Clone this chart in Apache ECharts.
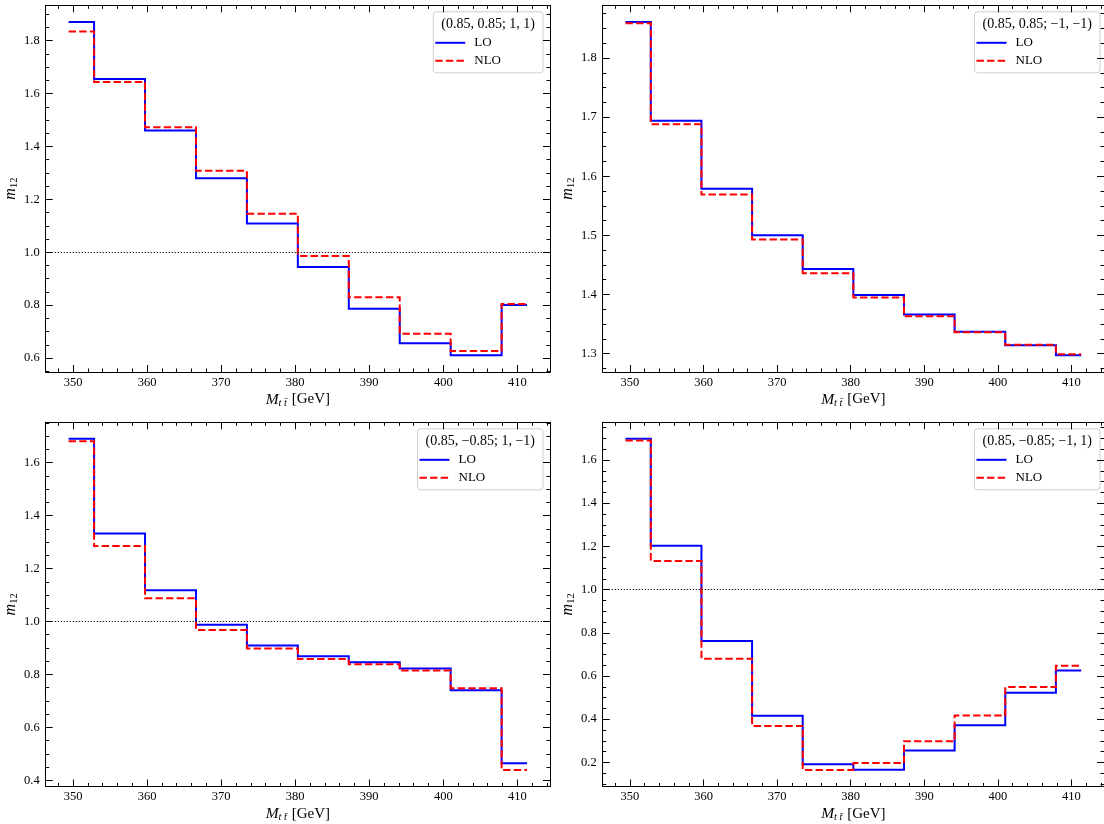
<!DOCTYPE html>
<html>
<head>
<meta charset="utf-8">
<script src="https://cdn.jsdelivr.net/npm/echarts@6/dist/echarts.min.js"></script>
<style>
  html, body { margin: 0; padding: 0; background: #fff; }
  #chart { width: 1104px; height: 824px; }
</style>
</head>
<body>
<div id="chart"></div>
<script>
// Bin centres of the M_tt̄ distribution (GeV)
const binCenters = [349.4, 356.28, 363.16, 370.04, 376.92, 383.8, 390.68, 397.56, 404.44, 411.32];

// m12 per bin, LO and NLO, for each spin/coupling configuration
const loA  = [1.871, 1.655, 1.460, 1.280, 1.109, 0.944, 0.786, 0.656, 0.610, 0.800];
const nloA = [1.835, 1.644, 1.473, 1.308, 1.146, 0.986, 0.830, 0.692, 0.626, 0.804];
const loB  = [1.861, 1.694, 1.579, 1.500, 1.443, 1.399, 1.366, 1.337, 1.314, 1.297];
const nloB = [1.859, 1.688, 1.569, 1.493, 1.436, 1.395, 1.363, 1.336, 1.315, 1.299];
const loC  = [1.690, 1.332, 1.118, 0.988, 0.909, 0.869, 0.846, 0.822, 0.740, 0.464];
const nloC = [1.681, 1.285, 1.088, 0.968, 0.898, 0.858, 0.838, 0.815, 0.748, 0.439];
const loD  = [1.698, 1.203, 0.762, 0.416, 0.191, 0.166, 0.255, 0.372, 0.523, 0.626];
const nloD = [1.690, 1.133, 0.680, 0.369, 0.165, 0.197, 0.298, 0.417, 0.549, 0.648];

const panelTitles = [
  '(0.85, 0.85; 1, 1)',
  '(0.85, 0.85; \u22121, \u22121)',
  '(0.85, \u22120.85; 1, \u22121)',
  '(0.85, \u22120.85; \u22121, 1)'
];

// Tick labels
const xTicks  = [350, 360, 370, 380, 390, 400, 410];
const yTicksA = [0.6, 0.8, 1.0, 1.2, 1.4, 1.6, 1.8];
const yTicksB = [1.3, 1.4, 1.5, 1.6, 1.7, 1.8];
const yTicksC = [0.4, 0.6, 0.8, 1.0, 1.2, 1.4, 1.6];
const yTicksD = [0.2, 0.4, 0.6, 0.8, 1.0, 1.2, 1.4, 1.6];

const panels = [
  { lo: loA, nlo: nloA, yTicks: yTicksA, minorDiv: 4, refLine: true },
  { lo: loB, nlo: nloB, yTicks: yTicksB, minorDiv: 4, refLine: false },
  { lo: loC, nlo: nloC, yTicks: yTicksC, minorDiv: 4, refLine: true },
  { lo: loD, nlo: nloD, yTicks: yTicksD, minorDiv: 4, refLine: true }
];

// Plot-area rectangles of the 2x2 layout
const gridRects = [
  { left: 45.7,  top: 5.3,   width: 504.3, height: 366.7 },
  { left: 602.7, top: 5.3,   width: 504.3, height: 366.7 },
  { left: 45.7,  top: 422.3, width: 504.3, height: 366.4 },
  { left: 602.7, top: 422.3, width: 504.3, height: 366.4 }
];

const FONT = '"Liberation Serif", "DejaVu Serif", serif';
const BLUE = '#0000ff';
const RED = '#ff0000';
const DASH = [7.4, 3.2];

// Axis limits padded by 5% of the data span on each side
function padded(values) {
  const lo = Math.min.apply(null, values), hi = Math.max.apply(null, values);
  const m = 0.05 * (hi - lo);
  return [lo - m, hi + m];
}

// Minor tick positions between (and around) the major ticks
function minorTicks(majors, div, lim) {
  const step = (majors[1] - majors[0]) / div;
  const out = [];
  const start = Math.ceil((lim[0] - majors[0]) / step - 1e-9);
  const end = Math.floor((lim[1] - majors[0]) / step + 1e-9);
  for (let k = start; k <= end; k++) {
    if (((k % div) + div) % div === 0) continue;
    out.push(+(majors[0] + k * step).toFixed(6));
  }
  return out;
}

const xLim = padded(binCenters);
const xMinor = minorTicks(xTicks, 5, xLim);

const tickLine = { color: '#000', width: 1 };
const labelStyle = { fontFamily: FONT, fontSize: 12.5, color: '#000' };

const xAxes = [], yAxes = [], series = [], grids = [], graphics = [];

const measureCtx = document.createElement('canvas').getContext('2d');

panels.forEach(function (p, i) {
  const g = gridRects[i];
  grids.push({ left: g.left, top: g.top, width: g.width, height: g.height, containLabel: false });

  const yLim = padded(p.lo.concat(p.nlo));
  const yMinor = minorTicks(p.yTicks, p.minorDiv, yLim);

  function axisBase(lim) {
    return {
      type: 'value', gridIndex: i, min: lim[0], max: lim[1],
      splitLine: { show: false }, silent: true,
      axisLine: { show: false, onZero: false, lineStyle: tickLine },
      axisLabel: { show: false }
    };
  }

  // x: bottom major (with labels + name), bottom minor, top major, top minor
  xAxes.push(Object.assign(axisBase(xLim), {
    position: 'bottom',
    axisLine: { show: true, onZero: false, lineStyle: tickLine },
    axisTick: { show: true, inside: true, length: 7, customValues: xTicks, lineStyle: tickLine },
    axisLabel: Object.assign({ show: true, customValues: xTicks, margin: 4,
      formatter: function (v) { return String(Math.round(v)); } }, labelStyle),
    name: '{i|M}{s|t t\u0304}{n| [GeV]}',
    nameLocation: 'middle', nameGap: 18.5,
    nameTextStyle: {
      fontFamily: FONT, fontSize: 15, color: '#000',
      rich: {
        i: { fontFamily: FONT, fontSize: 15.5, fontStyle: 'italic', color: '#000' },
        s: { fontFamily: FONT, fontSize: 10.5, fontStyle: 'italic', color: '#000', padding: [7, 1, 0, 0] },
        n: { fontFamily: FONT, fontSize: 15, color: '#000' }
      }
    }
  }));
  xAxes.push(Object.assign(axisBase(xLim), {
    position: 'bottom',
    axisTick: { show: true, inside: true, length: 3.5, customValues: xMinor, lineStyle: tickLine }
  }));
  xAxes.push(Object.assign(axisBase(xLim), {
    position: 'top',
    axisLine: { show: true, onZero: false, lineStyle: tickLine },
    axisTick: { show: true, inside: true, length: 7, customValues: xTicks, lineStyle: tickLine }
  }));
  xAxes.push(Object.assign(axisBase(xLim), {
    position: 'top',
    axisTick: { show: true, inside: true, length: 3.5, customValues: xMinor, lineStyle: tickLine }
  }));

  // y: left major (with labels + name), left minor, right major, right minor
  yAxes.push(Object.assign(axisBase(yLim), {
    position: 'left',
    axisLine: { show: true, onZero: false, lineStyle: tickLine },
    axisTick: { show: true, inside: true, length: 7, customValues: p.yTicks, lineStyle: tickLine },
    axisLabel: Object.assign({ show: true, customValues: p.yTicks, margin: 6,
      formatter: function (v) { return v.toFixed(1); } }, labelStyle),
    name: '{i|m}{s|12}',
    nameLocation: 'middle', nameGap: 19,
    nameTextStyle: {
      fontFamily: FONT, fontSize: 15, color: '#000',
      rich: {
        i: { fontFamily: FONT, fontSize: 16, fontStyle: 'italic', color: '#000' },
        s: { fontFamily: FONT, fontSize: 10.5, color: '#000', padding: [7, 0, 0, 0] }
      }
    }
  }));
  yAxes.push(Object.assign(axisBase(yLim), {
    position: 'left',
    axisTick: { show: true, inside: true, length: 3.5, customValues: yMinor, lineStyle: tickLine }
  }));
  yAxes.push(Object.assign(axisBase(yLim), {
    position: 'right',
    axisLine: { show: true, onZero: false, lineStyle: tickLine },
    axisTick: { show: true, inside: true, length: 7, customValues: p.yTicks, lineStyle: tickLine }
  }));
  yAxes.push(Object.assign(axisBase(yLim), {
    position: 'right',
    axisTick: { show: true, inside: true, length: 3.5, customValues: yMinor, lineStyle: tickLine }
  }));

  const ax = i * 4;
  const loSeries = {
    name: 'LO', type: 'line', step: 'middle',
    xAxisIndex: ax, yAxisIndex: ax,
    data: binCenters.map(function (x, k) { return [x, p.lo[k]]; }),
    symbol: 'none', showSymbol: false, silent: true, z: 3,
    lineStyle: { color: BLUE, width: 2, cap: 'butt', join: 'miter' },
    itemStyle: { color: BLUE }
  };
  if (p.refLine) {
    loSeries.markLine = {
      silent: true, symbol: ['none', 'none'], animation: false,
      label: { show: false },
      lineStyle: { color: '#000', width: 1, type: [1.2, 1.8] },
      data: [{ yAxis: 1.0 }]
    };
  }
  series.push(loSeries);
  series.push({
    name: 'NLO', type: 'line', step: 'middle',
    xAxisIndex: ax, yAxisIndex: ax,
    data: binCenters.map(function (x, k) { return [x, p.nlo[k]]; }),
    symbol: 'none', showSymbol: false, silent: true, z: 4,
    lineStyle: { color: RED, width: 2, type: DASH, cap: 'butt', join: 'miter' },
    itemStyle: { color: RED }
  });

  // Legend box in the upper-right corner of the panel
  measureCtx.font = '14px "Liberation Serif"';
  const titleW = measureCtx.measureText(panelTitles[i]).width;
  const boxW = Math.max(titleW + 16, 100);
  const boxH = 61;
  const right = g.left + g.width - 7;
  const top = g.top + 6.5;
  const left = right - boxW;
  graphics.push({
    type: 'group', silent: true, z: 100,
    children: [
      { type: 'rect', shape: { x: left, y: top, width: boxW, height: boxH, r: 3 },
        style: { fill: 'rgba(255,255,255,0.85)', stroke: '#cfcfcf', lineWidth: 1 } },
      { type: 'text', x: left + boxW / 2, y: top + 13,
        style: { text: panelTitles[i], fontFamily: FONT, fontSize: 14, fill: '#000', align: 'center', verticalAlign: 'middle' } },
      { type: 'line', shape: { x1: left + 2, y1: top + 31, x2: left + 32, y2: top + 31 },
        style: { stroke: BLUE, lineWidth: 2 } },
      { type: 'text', x: left + 41, y: top + 31,
        style: { text: 'LO', fontFamily: FONT, fontSize: 13, fill: '#000', align: 'left', verticalAlign: 'middle' } },
      { type: 'line', shape: { x1: left + 2, y1: top + 49, x2: left + 32, y2: top + 49 },
        style: { stroke: RED, lineWidth: 2, lineDash: DASH } },
      { type: 'text', x: left + 41, y: top + 49,
        style: { text: 'NLO', fontFamily: FONT, fontSize: 13, fill: '#000', align: 'left', verticalAlign: 'middle' } }
    ]
  });
});

const chart = echarts.init(document.getElementById('chart'), null, { renderer: 'canvas' });
chart.setOption({
  animation: false,
  backgroundColor: '#fff',
  grid: grids,
  xAxis: xAxes,
  yAxis: yAxes,
  series: series,
  graphic: graphics
});
</script>
</body>
</html>
